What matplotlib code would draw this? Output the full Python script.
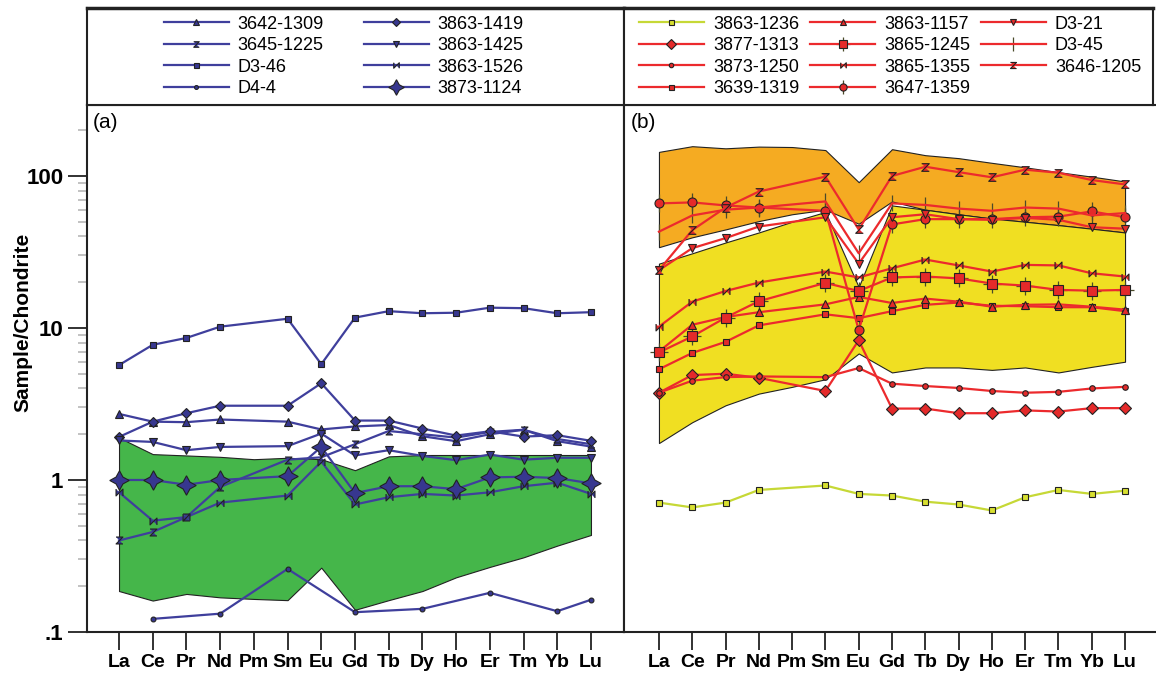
import numpy as np
import matplotlib
matplotlib.use('Agg')
import matplotlib.pyplot as plt
from matplotlib.ticker import FixedLocator, FixedFormatter, LogLocator, NullFormatter

plt.rcParams['font.family'] = ['Liberation Sans', 'DejaVu Sans']

nan = np.nan
elements = ['La', 'Ce', 'Pr', 'Nd', 'Pm', 'Sm', 'Eu', 'Gd', 'Tb', 'Dy', 'Ho', 'Er', 'Tm', 'Yb', 'Lu']

# ---- panel (a) samples ----
s3642_1309 = [2.72, 2.42, 2.40, 2.50, nan, 2.42, 2.15, 2.25, 2.30, 1.94, 1.80, 2.00, 2.14, 1.80, 1.66]
s3645_1225 = [0.40, 0.455, 0.57, 0.90, nan, 1.36, 1.41, 1.72, 2.10, 2.00, 1.90, 2.07, 2.14, 1.86, 1.72]
sD3_46 = [5.7, 7.75, 8.6, 10.2, nan, 11.5, 5.78, 11.7, 12.9, 12.5, 12.6, 13.6, 13.5, 12.5, 12.7]
sD4_4 = [nan, 0.122, nan, 0.132, nan, 0.26, nan, 0.135, nan, 0.142, nan, 0.181, nan, 0.137, 0.163]
s3863_1419 = [1.92, 2.42, 2.75, 3.08, nan, 3.08, 4.33, 2.46, 2.46, 2.18, 1.96, 2.09, 1.93, 1.97, 1.81]
s3863_1425 = [1.82, 1.78, 1.57, 1.65, nan, 1.67, 2.02, 1.45, 1.57, 1.44, 1.35, 1.47, 1.36, 1.40, 1.40]
s3863_1526 = [0.83, 0.54, 0.57, 0.71, nan, 0.79, 1.32, 0.69, 0.77, 0.81, 0.79, 0.83, 0.91, 0.96, 0.81]
s3873_1124 = [1.0, 1.0, 0.93, 1.0, nan, 1.06, 1.65, 0.82, 0.91, 0.91, 0.87, 1.04, 1.05, 1.03, 0.95]

green_top = [1.9, 1.48, 1.45, 1.42, 1.37, 1.40, 1.37, 1.16, 1.43, 1.46, 1.46, 1.46, 1.46, 1.46, 1.46]
green_bot = [0.186, 0.161, 0.178, 0.169, 0.165, 0.162, 0.265, 0.140, 0.162, 0.186, 0.229, 0.268, 0.31, 0.37, 0.435]

# ---- panel (b) samples ----
s3863_1236 = [0.71, 0.66, 0.71, 0.86, nan, 0.92, 0.81, 0.79, 0.72, 0.69, 0.63, 0.77, 0.86, 0.81, 0.85]
s3877_1313 = [3.75, 4.9, 5.0, 4.7, nan, 3.85, 8.3, 2.95, 2.95, 2.75, 2.75, 2.87, 2.82, 2.97, 2.97]
s3873_1250 = [3.75, 4.5, 4.75, 4.8, nan, 4.75, 5.45, 4.3, 4.15, 4.03, 3.85, 3.75, 3.8, 4.0, 4.1]
s3639_1319 = [5.35, 6.85, 8.1, 10.4, nan, 12.3, 11.6, 12.9, 14.2, 14.7, 14.0, 13.9, 13.7, 13.7, 12.9]
s3863_1157 = [7.0, 10.5, 11.8, 12.7, nan, 14.3, 16.0, 14.6, 15.6, 14.9, 13.8, 14.2, 14.3, 13.8, 13.2]
s3865_1245 = [6.9, 8.8, 11.7, 15.0, nan, 19.8, 17.5, 21.5, 21.8, 21.2, 19.6, 19.0, 17.8, 17.6, 17.8]
s3865_1355 = [10.2, 14.9, 17.5, 19.9, nan, 23.5, 21.5, 24.7, 28.2, 25.8, 23.5, 26.0, 25.8, 22.9, 21.8]
s3647_1359 = [66, 67, 64, 62, nan, 59, 9.7, 48, 52, 52, 52, 53.5, 54, 58.5, 53.5]
sD3_21 = [24, 33.5, 39, 46.5, nan, 53.5, 26.5, 53.5, 56, 52, 51.5, 53, 51.5, 46, 45]
sD3_45 = [43, 55, 60, 62, nan, 68, 31, 66, 64.5, 61, 59, 62, 61, 55, 57]
s3646_1205 = [24, 44, 62, 79, nan, 99, 44.5, 100, 115, 106, 98, 110, 105, 94, 88]

orange_top = [144, 157, 152, 156, 155, 148, 91, 150, 137, 131, 122, 114, 106, 99, 92]
orange_bot = [34, 39.5, 44.5, 50.5, 56, 60, 48.5, 68, 60, 56, 52.5, 50, 47.5, 45, 42.5]
yellow_top = [26.5, 31, 36.5, 42.5, 50, 58, 18.6, 64, 60, 56, 52.5, 50, 47.5, 45, 42.5]
yellow_bot = [1.75, 2.4, 3.1, 3.7, 4.1, 4.6, 6.8, 5.1, 5.5, 5.5, 5.3, 5.5, 5.1, 5.55, 6.0]

hourglass = [(-1, 1), (1, 1), (-1, -1), (1, -1)]
bowtie = [(-1, 1), (-1, -1), (1, 1), (1, -1)]
star4 = (4, 1, 0)

BLUE = '#3f3f9c'
BLUE_M = '#37378f'
RED = '#ec2a2d'
RED_M = '#e42a2a'
LIME = '#c6d836'
EDGE = '#222222'

W, H = 1156, 676
fig = plt.figure(figsize=(W / 100, H / 100), dpi=100)


def box(x0, y0, x1, y1):
    return [x0 / W, 1 - y1 / H, (x1 - x0) / W, (y1 - y0) / H]


ax_a = fig.add_axes(box(87, 105, 624, 632))
ax_b = fig.add_axes(box(624, 105, 1156, 632))
lg_a = fig.add_axes(box(87, 8, 624, 105))
lg_b = fig.add_axes(box(624, 8, 1153, 105))

x = np.arange(len(elements))


def draw(ax, vals, color, mface, marker, ms, lw=1.6, z=3):
    v = np.array(vals, dtype=float)
    m = ~np.isnan(v)
    return ax.plot(x[m], v[m], color=color, lw=lw, marker=marker, ms=ms,
                   mfc=mface, mec=EDGE, mew=0.8, zorder=z)[0]


def cross(ax, vals, marker, ms):
    v = np.array(vals, dtype=float)
    m = ~np.isnan(v)
    return ax.plot(x[m], v[m], ls='none', marker=marker, ms=ms, mec='#4a4a2a',
                   mew=0.9, zorder=2.9)[0]


# fields
ax_a.fill_between(x, green_bot, green_top, color='#45b64a', ec='#222222', lw=0.8, zorder=1)
ax_b.fill_between(x, orange_bot, orange_top, color='#f5ab22', ec='#222222', lw=0.8, zorder=1)
ax_b.fill_between(x, yellow_bot, yellow_top, color='#f0df22', ec='#222222', lw=0.8, zorder=1.1)

# panel (a) lines
ha = {}
ha['3642-1309'] = draw(ax_a, s3642_1309, BLUE, BLUE_M, '^', 5.5)
ha['3645-1225'] = draw(ax_a, s3645_1225, BLUE, BLUE_M, hourglass, 5)
ha['D3-46'] = draw(ax_a, sD3_46, BLUE, BLUE_M, 's', 4.5)
ha['D4-4'] = draw(ax_a, sD4_4, BLUE, BLUE_M, 'o', 3.5)
ha['3863-1419'] = draw(ax_a, s3863_1419, BLUE, BLUE_M, 'D', 5.5)
ha['3863-1425'] = draw(ax_a, s3863_1425, BLUE, BLUE_M, 'v', 5.5)
ha['3863-1526'] = draw(ax_a, s3863_1526, BLUE, BLUE_M, bowtie, 5)
ha['3873-1124'] = draw(ax_a, s3873_1124, BLUE, BLUE_M, star4, 14)

# panel (b) lines
hb = {}
hb['3863-1236'] = draw(ax_b, s3863_1236, LIME, '#d8e030', 's', 4.5)
hb['3877-1313'] = draw(ax_b, s3877_1313, RED, RED_M, 'D', 6)
hb['3873-1250'] = draw(ax_b, s3873_1250, RED, RED_M, 'o', 4)
hb['3639-1319'] = draw(ax_b, s3639_1319, RED, RED_M, 's', 4.5)
hb['3863-1157'] = draw(ax_b, s3863_1157, RED, RED_M, '^', 5.5)
c1 = cross(ax_b, s3865_1245, '+', 13)
hb['3865-1245'] = (c1, draw(ax_b, s3865_1245, RED, RED_M, 's', 7))
hb['3865-1355'] = draw(ax_b, s3865_1355, RED, RED_M, bowtie, 5)
c2 = cross(ax_b, s3647_1359, '|', 13)
hb['3647-1359'] = (c2, draw(ax_b, s3647_1359, RED, RED_M, 'o', 6.5))
hb['D3-21'] = draw(ax_b, sD3_21, RED, RED_M, 'v', 5.5)
c3 = cross(ax_b, sD3_45, '|', 12)
hb['D3-45'] = (c3, draw(ax_b, sD3_45, RED, RED_M, None, 0))
hb['3646-1205'] = draw(ax_b, s3646_1205, RED, RED_M, hourglass, 5.5)

for ax, xl in ((ax_a, (-0.95, 14.98)), (ax_b, (-1.05, 14.93))):
    ax.set_yscale('log')
    ax.set_ylim(0.1, 293)
    ax.set_xlim(*xl)
    ax.set_xticks(x)
    ax.set_xticklabels(elements, fontsize=14, fontweight='bold')
    ax.tick_params(axis='x', direction='out', length=13, width=1.3, pad=3, color='#222222')
    for s in ax.spines.values():
        s.set_linewidth(1.5)
        s.set_color('#222222')

ax_a.yaxis.set_major_locator(FixedLocator([0.1, 1, 10, 100]))
ax_a.yaxis.set_major_formatter(FixedFormatter(['.1', '1', '10', '100']))
ax_a.yaxis.set_minor_locator(LogLocator(base=10, subs=np.arange(2, 10)))
ax_a.yaxis.set_minor_formatter(NullFormatter())
ax_a.tick_params(axis='y', which='major', direction='out', length=14, width=1.3, pad=3,
                 labelsize=16, color='#222222')
ax_a.tick_params(axis='y', which='minor', direction='out', length=6.5, width=1.3, color='#bdbdbd')
for t in ax_a.get_yticklabels():
    t.set_fontweight('bold')
fig.text(23 / W, 1 - 322 / H, 'Sample/Chondrite', rotation=90, ha='center', va='center',
         fontsize=15, fontweight='bold')

ax_b.tick_params(axis='y', which='both', left=False, labelleft=False)
ax_b.spines['right'].set_visible(False)

ax_a.text(0.01, 0.985, '(a)', transform=ax_a.transAxes, va='top', ha='left', fontsize=15)
ax_b.text(0.012, 0.985, '(b)', transform=ax_b.transAxes, va='top', ha='left', fontsize=15)

for lg in (lg_a, lg_b):
    lg.set_xticks([])
    lg.set_yticks([])
    for s in lg.spines.values():
        s.set_linewidth(1.5)
        s.set_color('#222222')
    lg.spines['top'].set_linewidth(2.5)

order_a = ['3642-1309', '3645-1225', 'D3-46', 'D4-4', '3863-1419', '3863-1425', '3863-1526', '3873-1124']
lg_a.legend([ha[k] for k in order_a], order_a, ncol=2, loc='center', bbox_to_anchor=(0.478, 0.5),
            frameon=False, fontsize=13, handlelength=3.6, handletextpad=0.5, columnspacing=2.2,
            labelspacing=0.25, numpoints=1, borderpad=0, markerscale=0.8)

order_b = ['3863-1236', '3877-1313', '3873-1250', '3639-1319', '3863-1157', '3865-1245',
           '3865-1355', '3647-1359', 'D3-21', 'D3-45', '3646-1205']
lg_b.legend([hb[k] for k in order_b], order_b, ncol=3, loc='center', bbox_to_anchor=(0.503, 0.5),
            frameon=False, fontsize=13, handlelength=3.6, handletextpad=0.5, columnspacing=0.6,
            labelspacing=0.25, numpoints=1, borderpad=0, markerscale=0.8)

fig.savefig('out.png', dpi=100)
